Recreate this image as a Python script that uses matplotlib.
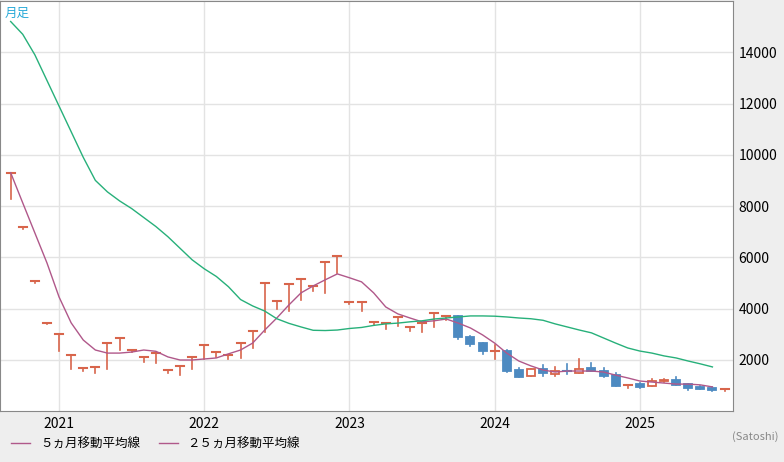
import numpy as np
import matplotlib
matplotlib.use("Agg")
import matplotlib.pyplot as plt
from matplotlib.patches import Rectangle
from matplotlib.lines import Line2D

plt.rcParams["font.family"] = ["Noto Sans CJK JP"]

# monthly candles Sep 2020 .. Aug 2025
highs = [9300, 7190, 5080, 3440, 3000, 2190, 1680, 1720, 2650, 2850, 2380, 2110, 2260, 1600, 1760, 2110,
         2580, 2300, 2190, 2650, 3120, 5000, 4300, 4960, 5160, 4880, 5820, 6050,
         4260, 4260, 3480, 3430, 3670, 3280, 3430, 3830, 3710,
         3710, 2930, 2660, 2580, 2380, 1680, 1640, 1780, 1700, 1850, 2030, 1880, 1680, 1480, 1020,
         1090, 1230, 1250, 1320, 1060, 960, 930, 860]
lows = [8280, 7110, 5000, 3400, 2350, 1650, 1570, 1500, 1650, 2380, 2300, 1920, 1870, 1480, 1410, 1650,
        2030, 2110, 2030, 2070, 2460, 3090, 3980, 3910, 4340, 4690, 4610, 5390,
        4180, 3910, 3360, 3200, 3320, 3130, 3090, 3280, 3550,
        2810, 2540, 2230, 2030, 1520, 1330, 1370, 1380, 1380, 1430, 1480, 1560, 1330, 960, 880,
        880, 960, 1130, 1000, 830, 860, 780, 790]
opens = highs[:37] + [3710, 2890, 2660, 2340, 2340, 1600, 1370, 1640, 1450, 1560, 1480, 1680, 1560, 1400, 1020,
                      1050, 980, 1170, 1210, 1050, 940, 900, 860]
closes = highs[:37] + [2880, 2620, 2340, 2340, 1560, 1330, 1640, 1480, 1560, 1530, 1640, 1560, 1370, 980, 1020,
                       940, 1170, 1210, 1020, 900, 860, 820, 860]

ma5 = [9300, 8120, 6950, 5780, 4450, 3440, 2770, 2380, 2260, 2260, 2300, 2380, 2330, 2110, 1990, 1990,
       2030, 2070, 2230, 2380, 2650, 3160, 3630, 4140, 4610, 4880, 5120, 5350,
       5200, 5040, 4610, 4060, 3790, 3630, 3480, 3520, 3590, 3430, 3240, 2970,
       2650, 2260, 1950, 1760, 1600, 1520, 1560, 1560, 1560, 1520, 1400, 1290,
       1170, 1130, 1090, 1050, 1050, 1020, 940, np.nan]
ma25 = [15200, 14700, 13900, 12900, 11900, 10900, 9900, 9000, 8550, 8200, 7900, 7550, 7200, 6800, 6350, 5900,
        5550, 5250, 4850, 4350, 4100, 3900, 3600, 3420, 3280, 3150, 3140, 3160,
        3220, 3260, 3340, 3400, 3430, 3480, 3520, 3590, 3630, 3670, 3710, 3710,
        3700, 3670, 3630, 3600, 3540, 3400, 3280, 3160, 3050, 2850, 2650, 2460,
        2340, 2260, 2150, 2070, 1950, 1840, 1720, np.nan]
year_labels = ["2021", "2022", "2023", "2024", "2025"]
year_pos = [4, 16, 28, 40, 52]
y_ticks = [2000, 4000, 6000, 8000, 10000, 12000, 14000]

RED, BLUE = "#d8654b", "#4d8ac1"
fig = plt.figure(figsize=(7.84, 4.62), dpi=100, facecolor="#eeeeee")
ax = fig.add_axes([0, 51/462, 733/784, 410/462])
ax.set_facecolor("white")
x = np.arange(len(highs))
w = 0.66
for i in x:
    o, h, l, c = opens[i], highs[i], lows[i], closes[i]
    col = RED if c >= o else BLUE
    ax.plot([i, i], [l, h], color=col, lw=1.2, zorder=3)
    lo, hi = min(o, c), max(o, c)
    if hi - lo < 40:
        ax.plot([i - w/2, i + w/2], [hi, hi], color=col, lw=1.5, zorder=4)
    else:
        ax.add_patch(Rectangle((i - w/2, lo), w, hi - lo, facecolor="white" if col == RED else BLUE,
                               edgecolor=col, lw=1.3, zorder=4))
ax.plot(x, ma5, color="#b0588a", lw=1, zorder=5)
ax.plot(x, ma25, color="#27b07a", lw=1, zorder=5)

ax.set_xlim(-0.88, 59.7)
ax.set_ylim(0, 16000)
ax.set_xticks(year_pos)
ax.set_xticklabels(year_labels, fontsize=10)
ax.set_yticks(y_ticks)
ax.set_yticklabels([str(v) for v in y_ticks], fontsize=10)
ax.yaxis.tick_right()
ax.tick_params(length=0, pad=4)
ax.grid(True, color="#e3e3e3", lw=1)
ax.set_axisbelow(True)
for s in ax.spines.values():
    s.set_color("#888888")
ax.text(0.006, 0.985, "月足", transform=ax.transAxes, color="#27a9d8", fontsize=9, va="top")
fig.text(0.993, 1 - 437/462, "(Satoshi)", ha="right", va="center", fontsize=8, color="#888888")
fig.legend(handles=[Line2D([], [], color="#b0588a", lw=1), Line2D([], [], color="#b0588a", lw=1)],
           labels=["５ヵ月移動平均線", "２５ヵ月移動平均線"], loc="lower left", bbox_to_anchor=(0.0, 0.0),
           ncol=2, frameon=False, fontsize=9, handlelength=1.5, columnspacing=1.5)
fig.savefig("out.png", dpi=100, facecolor=fig.get_facecolor())
